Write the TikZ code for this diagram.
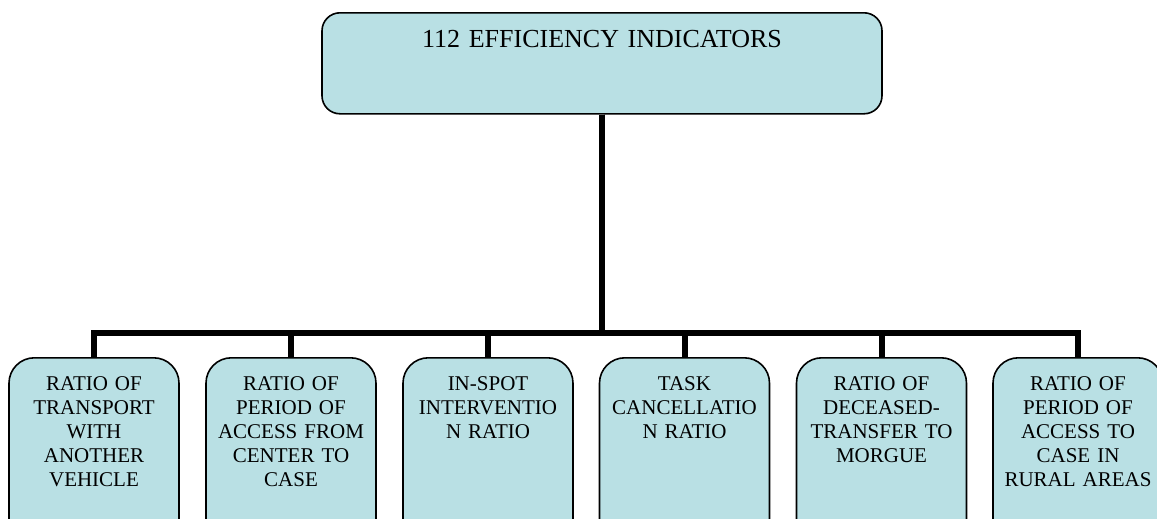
\documentclass[tikz,border=0pt]{standalone}
\usepackage{fontspec}
\setmainfont{Liberation Serif}
\begin{document}
\begin{tikzpicture}[x=0.75pt,y=-0.75pt,
  boxfill/.style={fill={rgb,255:red,185;green,224;blue,228}},
  rootbox/.style={draw=black,line width=1.2pt,boxfill,rounded corners=13.5pt,
    anchor=north,inner sep=0pt,minimum width=420pt,
    text width=420pt,align=center,text height=26.25pt,text depth=49.5pt,
    font=\fontsize{19.5}{22}\selectfont},
  leafbox/.style={draw=black,line width=1.2pt,boxfill,rounded corners=19pt,
    anchor=north,inner sep=0pt,minimum width=127.5pt,
    text width=127.5pt,align=center,text height=24.75pt,text depth=120pt,
    font=\fontsize{15.75}{18}\selectfont},
  conn/.style={draw=black,line width=4.5pt,line join=miter}]
\clip (0,0) rectangle (1157,518);
\fill[white] (0,0) rectangle (1157,518);

% top-level box
\node[rootbox] (root) at (602,12) {112 EFFICIENCY INDICATORS};

% indicator boxes
\node[leafbox] (b1) at (94,357)  {RATIO OF\\TRANSPORT\\WITH\\ANOTHER\\VEHICLE};
\node[leafbox] (b2) at (291,357) {RATIO OF\\PERIOD OF\\ACCESS FROM\\CENTER TO\\CASE};
\node[leafbox] (b3) at (488,357) {IN-SPOT\\INTERVENTIO\\N RATIO};
\node[leafbox] (b4) at (684.5,357) {TASK\\CANCELLATIO\\N RATIO};
\node[leafbox] (b5) at (881.5,357) {RATIO OF\\DECEASED-\\TRANSFER TO\\MORGUE};
\node[leafbox] (b6) at (1078,357) {RATIO OF\\PERIOD OF\\ACCESS TO\\CASE IN\\RURAL AREAS};

% bus level of the tree connectors
\coordinate (bus) at (0,333);

\foreach \b in {b1,b2,b3,b4,b5,b6}{
  \draw[conn] (root.south) -- (root.south |- bus) -| (\b.north);
}
\end{tikzpicture}
\end{document}
